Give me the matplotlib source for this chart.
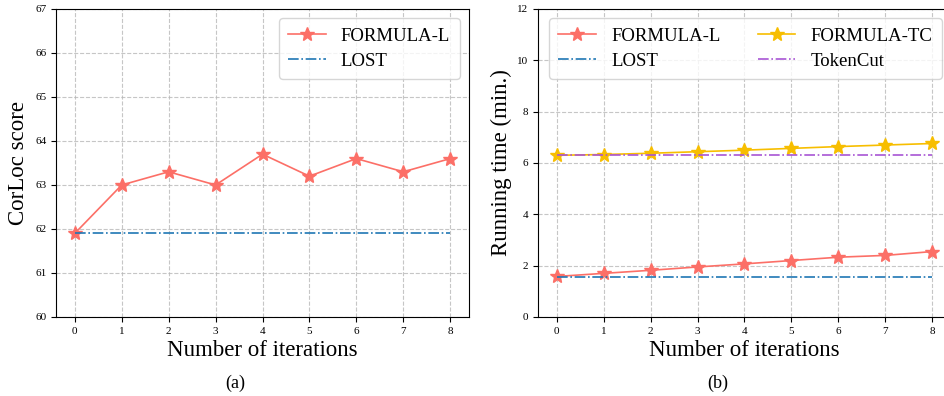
import matplotlib
matplotlib.use("Agg")
import matplotlib.pyplot as plt

plt.rcParams["font.family"] = ["Liberation Serif", "DejaVu Serif"]
plt.rcParams["mathtext.fontset"] = "stix"

iterations = [0, 1, 2, 3, 4, 5, 6, 7, 8]

# (a) CorLoc score
corloc_formula_l = [61.9, 63.0, 63.3, 63.0, 63.7, 63.2, 63.6, 63.3, 63.6]
corloc_lost = [61.9] * 9

# (b) running time (min.)
time_formula_l = [1.58, 1.70, 1.82, 1.95, 2.07, 2.20, 2.33, 2.40, 2.55]
time_lost = [1.57] * 9
time_formula_tc = [6.30, 6.33, 6.38, 6.44, 6.50, 6.57, 6.64, 6.70, 6.76]
time_tokencut = [6.30] * 9

RED = "#fc6f67"
BLUE = "#1f77b4"
GOLD = "#f7be00"
PURPLE = "#a855d4"

LEG = dict(fontsize=13.5, framealpha=0.8, handlelength=2.0, borderpad=0.5,
           labelspacing=0.4, handletextpad=0.8)


def _style(ax):
    ax.grid(True, color="#b8b8b8", linestyle="--", linewidth=0.8, alpha=0.8)
    ax.tick_params(labelsize=8)
    ax.set_xticks(iterations)
    ax.set_xlabel("Number of iterations", fontsize=16.5, labelpad=3)


fig = plt.figure(figsize=(9.45, 3.96), dpi=100)
ax1 = fig.add_axes([56 / 945, 79 / 396, 413 / 945, 308 / 396])
# the right panel runs slightly past the edge of the image, as in the original
ax2 = fig.add_axes([538 / 945, 79 / 396, 413 / 945, 308 / 396])

ax1.plot(iterations, corloc_formula_l, color=RED, marker="*", markersize=10,
         linewidth=1.2, label="FORMULA-L")
ax1.plot(iterations, corloc_lost, color=BLUE, linestyle="-.", linewidth=1.2,
         label="LOST")
ax1.set_ylim(60, 67)
ax1.set_ylabel("CorLoc score", fontsize=16.5)
_style(ax1)
ax1.legend(loc="upper right", **LEG)

ax2.plot(iterations, time_formula_l, color=RED, marker="*", markersize=10,
         linewidth=1.2, label="FORMULA-L")
ax2.plot(iterations, time_lost, color=BLUE, linestyle="-.", linewidth=1.2,
         label="LOST")
ax2.plot(iterations, time_formula_tc, color=GOLD, marker="*", markersize=10,
         linewidth=1.2, label="FORMULA-TC")
ax2.plot(iterations, time_tokencut, color=PURPLE, linestyle="-.", linewidth=1.2,
         label="TokenCut")
ax2.set_ylim(0, 12)
ax2.set_ylabel("Running time (min.)", fontsize=16.5)
_style(ax2)
ax2.legend(loc="upper right", ncol=2, columnspacing=2.0, **LEG)

fig.text(235 / 945, 1 - 383 / 396, "(a)", ha="center", va="center", fontsize=13)
fig.text(718 / 945, 1 - 383 / 396, "(b)", ha="center", va="center", fontsize=13)

fig.savefig("out.png", dpi=100)
